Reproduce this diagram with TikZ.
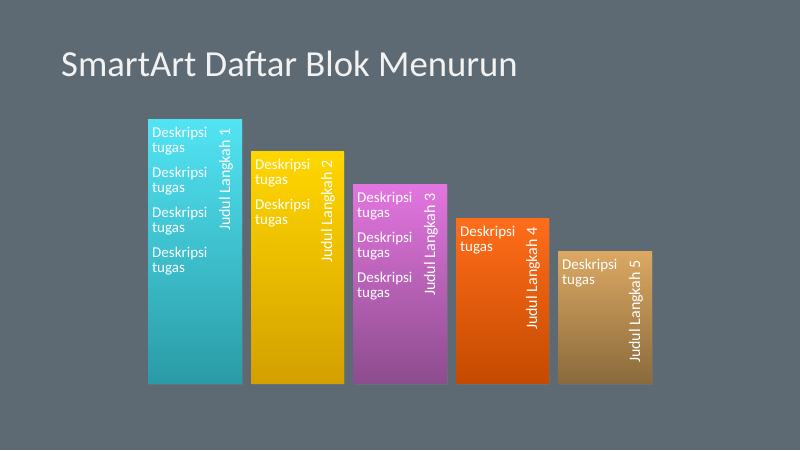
\documentclass[tikz,border=0pt]{standalone}
\usepackage{xcolor}
\usepackage{fontspec}
\setmainfont{Carlito}
\usepackage{tikz}
\usetikzlibrary{shadows}

\definecolor{latar}{RGB}{94,106,115}
\definecolor{tosca1}{RGB}{82,228,244}
\definecolor{tosca2}{RGB}{42,155,166}
\definecolor{kuning1}{RGB}{255,215,0}
\definecolor{kuning2}{RGB}{211,160,0}
\definecolor{ungu1}{RGB}{227,117,224}
\definecolor{ungu2}{RGB}{140,77,140}
\definecolor{oranye1}{RGB}{255,109,26}
\definecolor{oranye2}{RGB}{197,74,0}
\definecolor{coklat1}{RGB}{219,168,99}
\definecolor{coklat2}{RGB}{138,106,60}

\begin{document}
\begin{tikzpicture}[x=1pt, y=1pt,
    blok/.style={drop shadow={opacity=0.35, shadow xshift=1pt, shadow yshift=-2pt}},
    desc/.style={font=\fontsize{15}{15}\selectfont, text=white, align=left,
                 text width=80pt, inner sep=0pt, anchor=base west},
    judul/.style={font=\fontsize{16}{16}\selectfont, text=white, rotate=90,
                  inner sep=0pt, anchor=base east}]

        % Background
        \fill[latar] (0,0) rectangle (800,450);

        % Title
        \node[font=\fontsize{36.7}{36.7}\selectfont, text=white!95!black, inner sep=0pt, anchor=base west]
            (judulutama) at (61,373.3) {SmartArt Daftar Blok Menurun};

        % Block 1
        \shade[blok, top color=tosca1, bottom color=tosca2] (148,67) rectangle (242,330);
        \node[desc] (desc1) at (152,312.6) {Deskripsi\\tugas\\[10pt]Deskripsi\\tugas\\[10pt]Deskripsi\\tugas\\[10pt]Deskripsi\\tugas};
        \node[judul] (langkah1) at (230,322) {Judul Langkah 1};

        % Block 2
        \shade[blok, top color=kuning1, bottom color=kuning2] (251,67) rectangle (344,298);
        \node[desc] (desc2) at (255,280.6) {Deskripsi\\tugas\\[10pt]Deskripsi\\tugas};
        \node[judul] (langkah2) at (332,290) {Judul Langkah 2};

        % Block 3
        \shade[blok, top color=ungu1, bottom color=ungu2] (353,67) rectangle (447,265);
        \node[desc] (desc3) at (357,247.6) {Deskripsi\\tugas\\[10pt]Deskripsi\\tugas\\[10pt]Deskripsi\\tugas};
        \node[judul] (langkah3) at (435,257) {Judul Langkah 3};

        % Block 4
        \shade[blok, top color=oranye1, bottom color=oranye2] (456,67) rectangle (549,231);
        \node[desc] (desc4) at (460,213.6) {Deskripsi\\tugas};
        \node[judul] (langkah4) at (537,223) {Judul Langkah 4};

        % Block 5
        \shade[blok, top color=coklat1, bottom color=coklat2] (558,67) rectangle (652,198);
        \node[desc] (desc5) at (562,180.6) {Deskripsi\\tugas};
        \node[judul] (langkah5) at (640,190) {Judul Langkah 5};

    \end{tikzpicture}
\end{document}
